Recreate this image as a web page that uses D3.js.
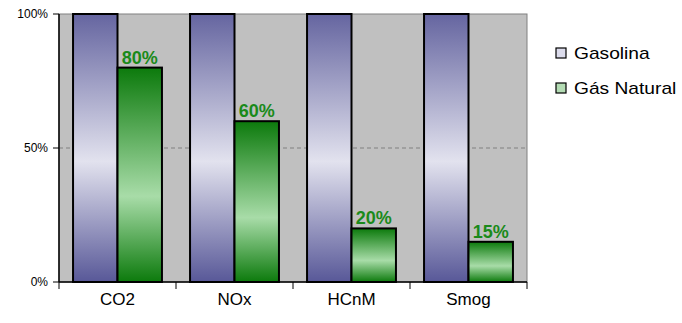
<!DOCTYPE html>
<html><head><meta charset="utf-8">
<script src="https://cdn.jsdelivr.net/npm/d3@7"></script>
<style>body{margin:0;background:#fff}svg{display:block}text{font-family:"Liberation Sans",Arial,sans-serif}</style>
</head><body>
<svg id="c" width="682" height="323"></svg>
<script>
const categories = ["CO2","NOx","HCnM","Smog"];
const gasolina = [100,100,100,100];
const gasNatural = [80,60,20,15];
const seriesNames = ["Gasolina","Gás Natural"];
const yTicks = [0,50,100];

const svg = d3.select("#c");
const m = {l:59, r:155, t:14, b:41};
const W = 682, H = 323;
const x0 = d3.scaleBand().domain(categories).range([m.l, W-m.r]).paddingInner(0.24).paddingOuter(0.12);
const band = d3.scaleBand().domain(categories).range([m.l, W-m.r]);
const x1 = d3.scaleBand().domain(seriesNames).range([0, x0.bandwidth()]);
const y = d3.scaleLinear().domain([0,100]).range([H-m.b, m.t]);

const defs = svg.append("defs");
function grad(id, stops){
  const g = defs.append("linearGradient").attr("id",id).attr("x1",0).attr("y1",0).attr("x2",0).attr("y2",1);
  stops.forEach(s=>g.append("stop").attr("offset",s[0]).attr("stop-color",s[1]));
}
grad("gBlue",[[0,"#6565a0"],[0.55,"#e2e2ee"],[1,"#585898"]]);
grad("gGreen",[[0,"#0c7a0c"],[0.6,"#a8dca8"],[1,"#0c7a0c"]]);

svg.append("rect").attr("x",m.l).attr("y",m.t).attr("width",W-m.r-m.l).attr("height",H-m.b-m.t)
  .attr("fill","#c0c0c0").attr("stroke","#808080").attr("stroke-width",1);

svg.append("line").attr("x1",m.l).attr("x2",W-m.r).attr("y1",y(50)).attr("y2",y(50))
  .attr("stroke","#808080").attr("stroke-dasharray","4,3");

const data = categories.map((c,i)=>({c, vals:[gasolina[i],gasNatural[i]]}));
const groups = svg.append("g").selectAll("g").data(data).join("g")
  .attr("transform",d=>`translate(${x0(d.c)},0)`);
groups.selectAll("rect").data(d=>d.vals.map((v,j)=>({v,s:seriesNames[j],j}))).join("rect")
  .attr("x",d=>x1(d.s)).attr("width",x1.bandwidth())
  .attr("y",d=>y(d.v)).attr("height",d=>y(0)-y(d.v))
  .attr("fill",d=>d.j===0?"url(#gBlue)":"url(#gGreen)")
  .attr("stroke","#000").attr("stroke-width",2);
groups.append("text").attr("x",d=>x1(seriesNames[1])+x1.bandwidth()/2)
  .attr("y",d=>y(d.vals[1])-4).attr("text-anchor","middle")
  .attr("font-size",18).attr("font-weight","bold").attr("fill","#1a8a1a")
  .text(d=>d.vals[1]+"%");

const ax = svg.append("g").attr("transform",`translate(0,${H-m.b})`);
ax.append("line").attr("x1",m.l).attr("x2",W-m.r).attr("stroke","#000").attr("stroke-width",1.5);
const tickXs = categories.map(c=>band(c)).concat([W-m.r]);
ax.selectAll("line.t").data(tickXs).join("line").attr("class","t")
  .attr("x1",d=>d).attr("x2",d=>d).attr("y1",0).attr("y2",7).attr("stroke","#000");
ax.selectAll("text").data(categories).join("text")
  .attr("x",d=>band(d)+band.bandwidth()/2).attr("y",23).attr("text-anchor","middle")
  .attr("font-size",17).attr("fill","#000").text(d=>d);

const ay = svg.append("g");
ay.append("line").attr("x1",m.l).attr("x2",m.l).attr("y1",m.t).attr("y2",H-m.b).attr("stroke","#000").attr("stroke-width",1.5);
ay.selectAll("line.t").data(yTicks).join("line").attr("class","t")
  .attr("x1",m.l-6).attr("x2",m.l).attr("y1",d=>y(d)).attr("y2",d=>y(d)).attr("stroke","#000");
ay.selectAll("text").data(yTicks).join("text")
  .attr("x",m.l-11).attr("y",d=>y(d)+4).attr("text-anchor","end")
  .attr("font-size",12).attr("fill","#000").text(d=>d+"%");

const lg = svg.append("g").attr("transform","translate(556,53)");
seriesNames.forEach((s,i)=>{
  const g = lg.append("g").attr("transform",`translate(0,${i*35})`);
  g.append("rect").attr("x",0).attr("y",-5).attr("width",10).attr("height",10)
    .attr("fill",i===0?"#dcdcec":"#b4dcb4").attr("stroke","#000").attr("stroke-width",1.2);
  g.append("text").attr("x",0).attr("y",5.5).attr("font-size",16).attr("fill","#000")
    .attr("transform","translate(18,0) scale(1.2,1)").text(s);
});
</script>
</body></html>
